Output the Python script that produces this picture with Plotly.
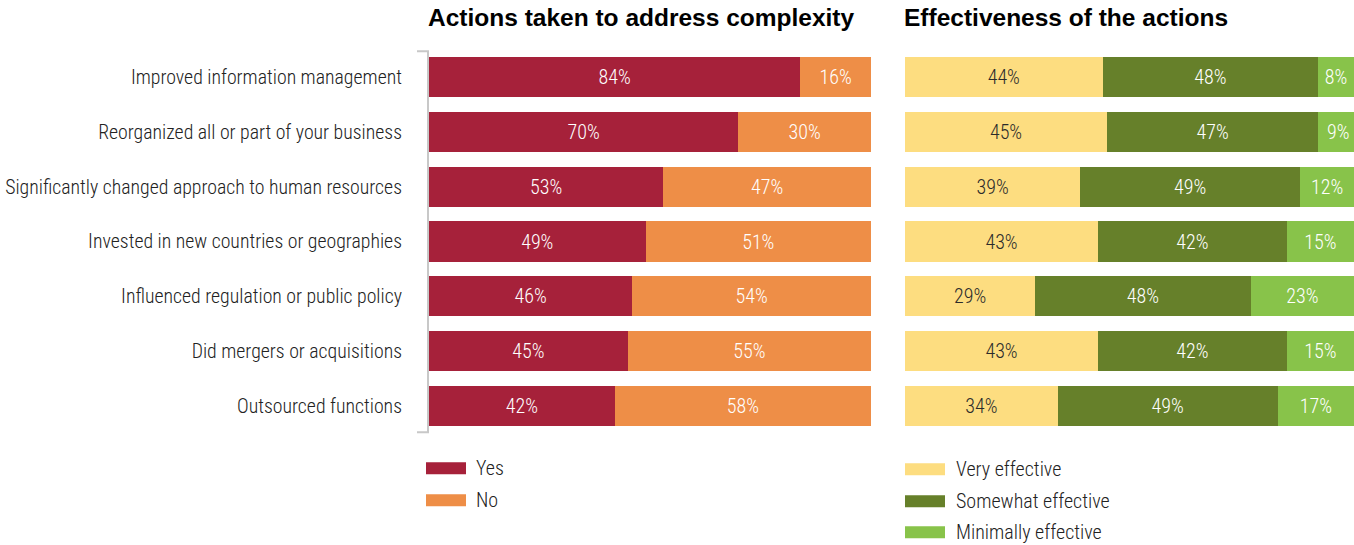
import plotly.graph_objects as go

# Survey data
actions = [
    "Improved information management",
    "Reorganized all or part of your business",
    "Significantly changed approach to human resources",
    "Invested in new countries or geographies",
    "Influenced regulation or public policy",
    "Did mergers or acquisitions",
    "Outsourced functions",
]
taken_yes = [84, 70, 53, 49, 46, 45, 42]
taken_no = [16, 30, 47, 51, 54, 55, 58]

very_effective = [44, 45, 39, 43, 29, 43, 34]
somewhat_effective = [48, 47, 49, 42, 48, 42, 49]
minimally_effective = [8, 9, 12, 15, 23, 15, 17]

left_title = "Actions taken to address complexity"
right_title = "Effectiveness of the actions"

left_series = [("Yes", taken_yes, "#A6213A", "white"),
               ("No", taken_no, "#EE8E47", "white")]
right_series = [("Very effective", very_effective, "#FDDD80", "#2b2b2b"),
                ("Somewhat effective", somewhat_effective, "#66802A", "white"),
                ("Minimally effective", minimally_effective, "#88C34A", "white")]

W, H = 1354, 545
FONT = "Roboto Condensed, Liberation Sans Narrow, Arial Narrow, Roboto, sans-serif"
TITLE_FONT = "Liberation Sans, Arial, sans-serif"
LIGHT = 300

# plot area in pixels
PLOT_TOP, PLOT_BOTTOM = 50.3, 432.8
LX0, LX1 = 429, 871
RX0 = 905


def py(px):
    """pixel row -> paper y"""
    return (PLOT_BOTTOM - px) / (PLOT_BOTTOM - PLOT_TOP)


def pxx(px):
    return px / W


fig = go.Figure()


def add_bars(series, xa, ya):
    for name, vals, color, tcolor in series:
        fig.add_trace(go.Bar(
            y=actions, x=vals, name=name, orientation="h",
            marker=dict(color=color, line=dict(width=0)),
            text=[f"{v}%" for v in vals], textposition="inside",
            insidetextanchor="middle", constraintext="none",
            textfont=dict(family=FONT, size=20, color=tcolor, weight=LIGHT),
            xaxis=xa, yaxis=ya, showlegend=False, hoverinfo="skip",
        ))


add_bars(left_series, "x", "y")
add_bars(right_series, "x2", "y2")

annotations = []
shapes = []

# panel titles
for text, x0 in [(left_title, LX0), (right_title, RX0)]:
    annotations.append(dict(
        text=f"<b>{text}</b>", xref="paper", yref="paper",
        x=pxx(x0), y=1, xanchor="left", yanchor="bottom", yshift=17, xshift=-3,
        showarrow=False, font=dict(family=TITLE_FONT, size=24.5, color="black"),
    ))

# legends drawn as swatch + label rows
def add_legend(series, sx0, sx1, tx, ys):
    for (name, _, color, _), yc in zip(series, ys):
        shapes.append(dict(
            type="rect", xref="paper", yref="paper",
            x0=pxx(sx0), x1=pxx(sx1), y0=py(yc + 6), y1=py(yc - 6),
            fillcolor=color, line=dict(width=0),
        ))
        annotations.append(dict(
            text=name, xref="paper", yref="paper", x=pxx(tx), y=py(yc),
            xanchor="left", yanchor="middle", showarrow=False,
            font=dict(family=FONT, size=20, color="#222", weight=LIGHT),
        ))


add_legend(left_series, 426, 466, 474, [468, 500])
add_legend(right_series, 905, 945, 954, [469, 501, 532])

# bracket along the left axis
shapes.append(dict(
    type="path", xref="paper", yref="paper",
    path=(f"M {pxx(417)} {py(51.5)} L {pxx(428)} {py(51.5)} "
          f"L {pxx(428)} {py(432)} L {pxx(417)} {py(432)}"),
    line=dict(color="#C8C8C8", width=2),
))

fig.update_layout(
    width=W, height=H,
    barmode="stack", bargap=0.265,
    plot_bgcolor="white", paper_bgcolor="white",
    margin=dict(l=0, r=0, t=PLOT_TOP, b=H - PLOT_BOTTOM),
    font=dict(family=FONT, size=19.8, color="#222"),
    xaxis=dict(domain=[pxx(LX0), pxx(LX1)], range=[0, 100], visible=False, fixedrange=True),
    xaxis2=dict(domain=[pxx(RX0), 1.0], range=[0, 100], visible=False, fixedrange=True),
    yaxis=dict(categoryorder="array", categoryarray=actions, autorange="reversed",
               showgrid=False, zeroline=False, showline=False, ticks="",
               ticklabelstandoff=26,
               tickfont=dict(family=FONT, size=19.8, color="#222", weight=LIGHT)),
    yaxis2=dict(anchor="x2", matches="y", showticklabels=False, showgrid=False,
                zeroline=False, showline=False, ticks=""),
    annotations=annotations, shapes=shapes,
)

fig.write_html("out.html")
